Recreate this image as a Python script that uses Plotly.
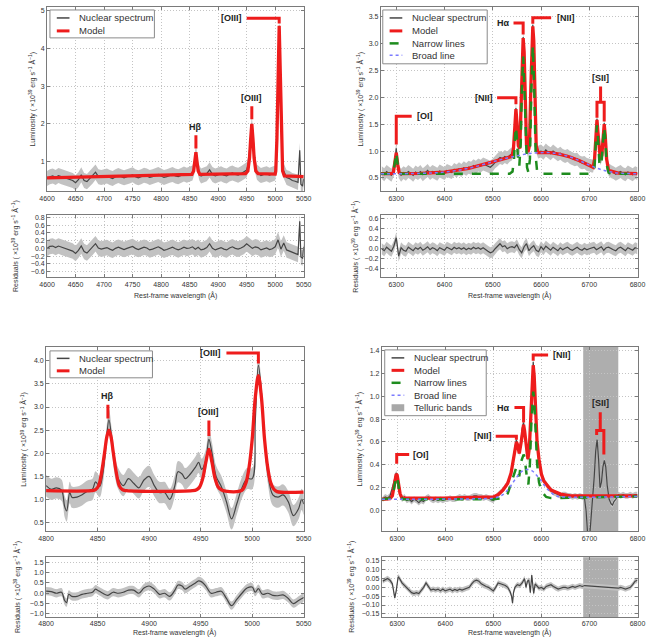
import plotly.graph_objects as go

W, H = 666, 637
FONT = "Liberation Sans, Arial, sans-serif"

# ---------------- Panel 1 : H-beta / [OIII] (top left) ----------------
P1_WL = [4600,4605,4610,4615,4620,4625,4630,4635,4640,4645,
         4650,4655,4660,4665,4670,4675,4680,4685,4690,4695,
         4700,4705,4710,4715,4720,4725,4730,4735,4740,4745,
         4750,4755,4760,4765,4770,4775,4780,4785,4790,4795,
         4800,4805,4810,4815,4820,4825,4830,4835,4840,4845,
         4850,4855,4858,4861,4864,4867,4870,4875,4880,4885,
         4890,4895,4900,4905,4910,4915,4920,4925,4930,4935,
         4940,4945,4950,4953,4956,4959,4962,4965,4968,4972,
         4975,4980,4985,4990,4995,5000,5002,5004,5007,5010,
         5012,5015,5020,5025,5030,5035,5040,5043,5045,5048,
         5050]
P1_FLUX = [0.55,0.60,0.62,0.58,0.63,0.60,0.57,0.55,0.52,0.50,
           0.44,0.52,0.65,0.50,0.47,0.55,0.62,0.72,0.60,0.58,
           0.60,0.62,0.58,0.55,0.60,0.63,0.60,0.57,0.60,0.62,
           0.65,0.60,0.57,0.60,0.64,0.62,0.58,0.60,0.63,0.66,
           0.62,0.58,0.60,0.64,0.66,0.62,0.60,0.63,0.67,0.64,
           0.66,0.70,0.85,1.25,0.90,0.70,0.62,0.64,0.68,0.78,
           0.66,0.62,0.65,0.68,0.64,0.62,0.67,0.70,0.66,0.64,
           0.68,0.72,0.78,0.95,1.50,2.00,1.50,0.90,0.72,0.66,
           0.63,0.66,0.68,0.64,0.66,0.70,0.90,2.50,4.60,2.50,
           0.90,0.75,0.58,0.55,0.50,0.48,0.45,1.30,0.40,0.35,
           0.55]
P1_ERR = 0.2
P1_MODEL_WL = [4600,4700,4800,4850,4854,4857,4859,4861,4863,4865,
               4868,4900,4948,4952,4955,4957,4959,4961,4963,4966,
               4970,5000,5001,5003,5005,5007,5009,5011,5013,5016,5050]
P1_MODEL = [0.57,0.60,0.63,0.65,0.66,0.75,0.98,1.25,0.98,0.75,
            0.66,0.66,0.68,0.75,1.10,1.60,2.00,1.60,1.10,0.75,
            0.68,0.67,0.75,1.60,3.30,4.60,3.30,1.60,0.75,0.62,0.60]
P1_RES_WL = list(range(4600, 5041, 5)) + [5043, 5045, 5048, 5050]
P1_RES = [0.00,0.05,0.06,0.02,0.06,0.03,0.00,-0.02,-0.05,-0.07,
          -0.13,-0.05,0.06,-0.08,-0.12,-0.04,0.03,0.12,0.01,-0.02,
          0.00,0.02,-0.02,-0.05,0.00,0.03,0.00,-0.03,0.00,0.02,
          0.05,0.00,-0.03,0.00,0.03,0.01,-0.04,-0.02,0.01,0.04,
          0.00,-0.05,-0.03,0.01,0.03,-0.01,-0.04,-0.01,0.03,0.00,
          0.01,0.04,-0.02,0.03,-0.04,-0.02,0.02,0.12,0.00,-0.04,
          -0.01,0.02,-0.02,-0.04,0.01,0.04,0.00,-0.02,0.01,0.05,
          0.12,0.06,0.00,0.04,0.02,-0.04,-0.01,0.01,-0.03,-0.01,
          0.04,0.22,-0.02,0.14,-0.04,-0.07,-0.10,-0.12,-0.16,
          0.70,-0.22,-0.25,0.04]
P1_RES_ERR = 0.2

# ---------------- Panel 2 : H-alpha region (top right) ----------------
P2_WL = [6270,6275,6280,6285,6290,6295,6298,6300,6302,6305,
         6310,6315,6320,6325,6330,6335,6340,6345,6350,6355,
         6360,6365,6370,6375,6380,6385,6390,6395,6400,6405,
         6410,6415,6420,6425,6430,6435,6440,6445,6450,6455,
         6460,6465,6470,6475,6480,6485,6490,6495,6500,6505,
         6510,6515,6520,6525,6530,6535,6540,6543,6546,6548,
         6550,6553,6556,6559,6561,6563,6565,6567,6570,6573,
         6576,6579,6581,6583,6585,6587,6590,6594,6600,6605,
         6610,6615,6620,6625,6630,6635,6640,6645,6650,6655,
         6660,6665,6670,6675,6680,6685,6690,6695,6700,6705,
         6708,6711,6714,6716,6718,6721,6723,6726,6729,6731,
         6733,6736,6740,6745,6750,6755,6760,6765,6770,6775,
         6780,6785,6790,6795,6800]
P2_FLUX = [0.60,0.56,0.62,0.58,0.55,0.65,0.85,1.05,0.85,0.62,
           0.55,0.60,0.57,0.62,0.59,0.55,0.61,0.58,0.62,0.56,
           0.60,0.64,0.58,0.62,0.60,0.57,0.63,0.60,0.58,0.64,
           0.62,0.60,0.66,0.63,0.67,0.64,0.69,0.66,0.70,0.68,
           0.73,0.70,0.74,0.72,0.76,0.74,0.72,0.70,0.74,0.80,
           0.84,0.88,0.86,0.90,0.87,0.92,0.95,1.05,1.55,1.80,
           1.55,1.10,1.05,1.95,2.85,3.12,2.85,1.95,1.10,1.00,
           1.10,2.20,3.05,3.35,3.05,2.20,1.10,0.98,1.00,0.96,
           1.02,0.98,0.95,1.00,0.97,0.93,0.96,0.92,0.90,0.92,
           0.88,0.86,0.84,0.85,0.80,0.78,0.79,0.75,0.74,0.72,
           0.72,0.86,1.35,1.60,1.35,0.95,0.86,0.92,1.30,1.52,
           1.30,0.86,0.66,0.62,0.60,0.57,0.60,0.62,0.58,0.56,
           0.61,0.59,0.56,0.60,0.58]
P2_ERR = 0.12
P2_MODEL_WL = [6268,6290,6294,6297,6300,6303,6306,6310,6350,6400,
               6450,6500,6530,6540,6543,6546,6548,6550,6553,6556,
               6559,6561,6563,6565,6567,6570,6573,6576,6579,6581,
               6583,6585,6587,6590,6594,6600,6620,6640,6660,6680,
               6700,6708,6711,6714,6716,6718,6721,6723,6726,6729,
               6731,6733,6736,6740,6760,6800]
P2_MODEL = [0.58,0.58,0.60,0.75,0.97,0.75,0.60,0.58,0.585,0.61,
            0.68,0.80,0.87,0.90,1.05,1.55,1.78,1.55,1.10,1.05,
            1.95,2.85,3.10,2.85,1.95,1.10,0.98,1.10,2.20,3.05,
            3.32,3.05,2.20,1.10,0.97,0.97,0.97,0.94,0.89,0.82,
            0.74,0.70,0.85,1.35,1.58,1.35,0.95,0.85,0.92,1.30,
            1.50,1.30,0.85,0.64,0.59,0.58]
P2_NARROW_WL = [6268,6290,6294,6297,6300,6303,6306,6310,6535,6541,
                6544,6546,6548,6550,6552,6555,6558,6560,6563,6566,
                6568,6571,6574,6577,6580,6583,6586,6589,6592,6596,
                6705,6711,6714,6716,6718,6721,6723,6726,6729,6731,
                6733,6736,6740,6745,6800]
P2_NARROW = [0.58,0.58,0.60,0.75,0.97,0.75,0.60,0.58,0.58,0.62,
             0.85,1.25,1.45,1.25,0.90,0.72,1.15,2.05,2.76,2.05,
             1.30,0.70,0.60,0.85,2.15,2.96,2.15,0.90,0.62,0.58,
             0.58,0.70,1.25,1.48,1.25,0.78,0.72,0.85,1.25,1.44,
             1.25,0.75,0.60,0.58,0.58]
P2_BROAD_WL = [6268,6350,6400,6450,6500,6530,6560,6580,6600,6620,
               6640,6660,6680,6700,6720,6740,6760,6800]
P2_BROAD = [0.58,0.585,0.61,0.68,0.80,0.87,0.93,0.96,0.97,0.97,
            0.94,0.89,0.82,0.74,0.67,0.62,0.59,0.58]
P2_RES_WL = list(range(6270, 6801, 5))
P2_RES = [0.00,-0.04,0.03,-0.02,-0.05,0.05,0.22,-0.15,0.02,-0.03,
          -0.05,0.03,0.00,-0.04,0.02,-0.01,0.03,-0.03,0.00,0.04,
          -0.02,0.02,0.00,-0.04,0.02,-0.01,-0.03,0.03,0.01,-0.02,
          0.03,0.00,0.02,-0.01,0.02,-0.02,0.01,-0.01,0.03,0.00,
          0.02,-0.01,0.02,-0.02,-0.05,-0.08,-0.06,0.00,0.06,0.10,
          0.04,0.06,0.00,0.03,0.04,0.02,0.08,-0.02,-0.08,0.04,
          0.10,-0.04,0.02,0.06,-0.03,-0.06,0.04,-0.02,0.05,0.01,
          -0.03,0.03,0.00,-0.04,0.02,-0.02,0.01,0.03,-0.01,-0.03,
          0.00,0.03,-0.01,-0.03,0.01,-0.02,0.00,0.02,0.03,-0.02,
          0.01,0.04,-0.03,0.02,0.03,0.00,-0.02,-0.04,0.01,0.03,
          -0.01,-0.04,0.02,0.00,-0.03,0.02,0.00]
P2_RES_ERR = 0.11

# ---------------- Panel 3 : H-beta / [OIII] (bottom left) ----------------
P3_WL = [4800,4805,4810,4815,4818,4820,4823,4825,4830,4835,
         4840,4845,4848,4852,4855,4858,4861,4864,4867,4870,
         4875,4880,4885,4890,4895,4900,4905,4910,4915,4920,
         4925,4928,4932,4935,4940,4945,4948,4951,4955,4958,
         4961,4965,4970,4975,4980,4985,4990,4995,5000,5003,
         5006,5009,5012,5015,5020,5025,5030,5035,5040,5045,
         5048,5050]
P3_FLUX = [1.30,1.22,1.25,1.20,0.85,0.75,1.15,1.05,1.05,1.10,
           1.18,1.22,1.38,1.28,1.55,2.15,2.72,2.25,1.70,1.45,
           1.30,1.45,1.35,1.25,1.42,1.50,1.30,1.15,1.15,1.00,
           1.30,1.60,1.55,1.45,1.55,1.70,1.80,1.65,1.85,2.30,
           2.00,1.50,1.28,0.95,0.58,0.90,1.25,1.45,1.45,2.70,
           3.90,3.30,2.30,1.60,1.10,1.05,1.10,0.95,0.65,0.80,
           1.00,0.90]
P3_ERR = 0.23
P3_MODEL_WL = [4800,4844,4848,4851,4854,4857,4859,4861,4863,4865,
               4868,4871,4874,4878,4942,4946,4949,4952,4955,4958,
               4961,4964,4967,4970,4974,4988,4991,4994,4997,5000,
               5003,5006,5009,5012,5015,5018,5021,5024,5050]
P3_MODEL = [1.19,1.19,1.21,1.30,1.60,2.05,2.36,2.50,2.36,2.05,
            1.60,1.30,1.21,1.19,1.19,1.21,1.27,1.45,1.80,2.08,
            1.80,1.45,1.27,1.21,1.18,1.18,1.22,1.36,1.70,2.30,
            3.20,3.68,3.20,2.30,1.70,1.36,1.22,1.17,1.16]
P3_RES_WL = [4800,4805,4810,4815,4818,4820,4822,4825,4830,4835,
             4840,4845,4848,4850,4855,4860,4865,4870,4875,4880,
             4885,4890,4895,4900,4905,4910,4915,4920,4925,4928,
             4932,4935,4940,4945,4948,4951,4955,4960,4965,4970,
             4975,4980,4985,4990,4995,5000,5003,5006,5010,5015,
             5020,5025,5030,5035,5040,5045,5050]
P3_RES = [0.10,0.08,0.00,0.05,-0.35,-0.45,-0.05,-0.15,-0.15,-0.05,
          0.00,0.05,0.20,0.15,0.00,-0.10,0.05,0.00,0.05,0.15,
          0.15,0.00,0.25,0.35,0.20,-0.05,0.00,-0.15,0.15,0.40,
          0.35,0.20,0.35,0.50,0.60,0.55,0.35,0.00,0.05,0.10,
          -0.25,-0.60,-0.30,0.00,0.25,0.30,0.05,0.22,-0.05,0.00,
          -0.10,-0.12,-0.08,-0.25,-0.50,-0.35,-0.20]
P3_RES_ERR = 0.2

# ---------------- Panel 4 : H-alpha region (bottom right) ----------------
P4_WL = [6270,6275,6280,6285,6290,6295,6298,6301,6305,6310,
         6315,6320,6325,6330,6335,6340,6345,6350,6355,6360,
         6365,6370,6375,6380,6385,6390,6395,6400,6405,6410,
         6415,6420,6425,6430,6435,6440,6445,6450,6455,6460,
         6465,6470,6475,6480,6485,6490,6495,6500,6505,6510,
         6515,6520,6525,6530,6535,6540,6545,6548,6551,6554,
         6557,6560,6563,6566,6569,6572,6575,6578,6581,6583,
         6586,6589,6592,6595,6600,6605,6610,6615,6620,6625,
         6630,6635,6640,6645,6650,6655,6660,6665,6670,6675,
         6680,6685,6690,6693,6697,6700,6703,6706,6710,6713,
         6716,6719,6722,6725,6728,6731,6734,6737,6741,6745,
         6748,6751,6755,6760,6765,6770,6775,6780,6785,6790,
         6795,6800]
P4_FLUX = [0.10,0.12,0.11,0.13,0.20,0.30,0.33,0.28,0.15,0.10,
           0.12,0.09,0.10,0.08,0.10,0.09,0.07,0.09,0.08,0.11,
           0.12,0.10,0.09,0.10,0.09,0.10,0.09,0.10,0.10,0.11,
           0.10,0.10,0.11,0.12,0.11,0.12,0.11,0.11,0.12,0.13,
           0.13,0.12,0.12,0.11,0.12,0.11,0.10,0.09,0.12,0.14,
           0.16,0.18,0.21,0.24,0.30,0.40,0.55,0.62,0.55,0.50,
           0.58,0.72,0.77,0.68,0.52,0.45,0.55,0.85,1.20,1.30,
           1.15,0.80,0.55,0.42,0.32,0.27,0.23,0.20,0.18,0.16,
           0.15,0.14,0.13,0.14,0.14,0.13,0.13,0.12,0.13,0.12,
           0.13,0.12,0.10,0.00,-0.25,-0.25,-0.10,0.05,0.30,0.52,
           0.62,0.45,0.20,0.25,0.38,0.44,0.38,0.22,0.10,0.06,
           0.05,0.08,0.10,0.14,0.13,0.14,0.13,0.13,0.14,0.13,
           0.14,0.14]
P4_ERR = 0.025
P4_MODEL_WL = [6268,6285,6290,6293,6296,6298,6300,6303,6306,6310,
               6400,6500,6510,6520,6530,6537,6542,6546,6548,6550,
               6554,6558,6561,6563,6565,6569,6572,6575,6578,6581,
               6583,6585,6588,6591,6595,6600,6605,6610,6620,6640,
               6660,6800]
P4_MODEL = [0.10,0.105,0.13,0.20,0.29,0.32,0.31,0.24,0.15,0.11,
            0.11,0.12,0.14,0.18,0.24,0.33,0.47,0.58,0.60,0.58,
            0.50,0.60,0.72,0.75,0.70,0.52,0.45,0.55,0.85,1.18,
            1.27,1.18,0.88,0.60,0.45,0.32,0.26,0.23,0.18,0.145,
            0.13,0.13]
P4_NARROW_WL = [6268,6288,6292,6295,6298,6301,6304,6308,6312,6500,
                6520,6530,6537,6542,6546,6548,6550,6554,6558,6561,
                6563,6565,6568,6571,6573,6576,6579,6582,6583,6585,
                6588,6591,6595,6600,6610,6620,6800]
P4_NARROW = [0.10,0.11,0.16,0.25,0.30,0.27,0.18,0.12,0.10,0.10,
             0.11,0.15,0.24,0.32,0.37,0.38,0.37,0.30,0.43,0.48,
             0.49,0.47,0.35,0.25,0.23,0.40,0.75,1.02,1.04,0.98,
             0.70,0.42,0.25,0.17,0.12,0.11,0.125]
P4_BROAD_WL = [6268,6480,6500,6510,6520,6530,6540,6550,6560,6570,
               6580,6590,6600,6610,6620,6630,6645,6800]
P4_BROAD = [0.10,0.105,0.11,0.12,0.14,0.18,0.24,0.30,0.345,0.36,
            0.35,0.31,0.26,0.20,0.16,0.13,0.12,0.125]
P4_RES_WL = [6270,6275,6280,6285,6290,6295,6298,6302,6305,6310,
             6315,6320,6325,6330,6335,6340,6345,6350,6355,6360,
             6365,6370,6375,6380,6385,6390,6395,6400,6405,6410,
             6415,6420,6425,6430,6435,6440,6445,6450,6455,6460,
             6465,6470,6475,6480,6485,6490,6495,6500,6505,6510,
             6515,6520,6525,6530,6535,6538,6540,6542,6545,6550,
             6555,6560,6565,6568,6571,6574,6577,6580,6582,6584,
             6587,6590,6595,6600,6605,6610,6615,6620,6625,6630,
             6635,6640,6645,6650,6655,6660,6665,6670,6675,6680,
             6685,6690,6760,6765,6770,6775,6780,6785,6790,6795,
             6800]
P4_RES = [0.035,0.045,0.05,0.04,0.02,-0.06,-0.02,0.06,0.05,0.025,
          0.01,0.0,-0.015,-0.03,-0.035,-0.03,-0.035,-0.02,0.0,0.025,
          0.005,-0.015,-0.01,-0.015,-0.01,-0.02,-0.01,-0.02,-0.015,-0.01,
          -0.02,-0.012,-0.018,-0.01,-0.015,-0.01,-0.005,0.0,0.02,0.035,
          0.04,0.035,0.02,0.01,0.005,0.0,-0.01,-0.02,0.0,0.025,
          0.02,0.015,0.01,0.0,-0.025,-0.05,-0.09,-0.03,0.0,0.015,
          0.01,0.025,0.05,0.0,0.035,0.04,-0.03,0.07,0.0,-0.035,
          0.02,0.01,-0.005,0.0,-0.01,0.005,0.01,0.015,0.005,-0.005,
          -0.01,-0.005,0.0,0.0,-0.005,0.0,0.005,0.0,0.005,0.01,
          0.005,0.01,-0.005,0.0,-0.005,-0.01,-0.005,0.0,0.015,0.035,
          0.04]
P4_RES_ERR = 0.015
TELLURIC = [6687, 6760]

LEGEND_LABELS = ["Nuclear spectrum", "Model", "Narrow lines", "Broad line", "Telluric bands"]

# ---------------- line identification brackets (data coords) ----------------
P1_BRACKETS = [
    dict(x=[4861, 4861], y=[1.35, 1.70], label="Hβ", lx=4861, ly=1.72, anchor="bottom"),
    dict(x=[4959, 4959], y=[2.12, 2.47], label="[OIII]", lx=4959, ly=2.50, anchor="bottom"),
    dict(x=[5007, 5007, 4950], y=[4.66, 4.80, 4.80], label="[OIII]", lx=4946, ly=4.80, anchor="right"),
]
P2_BRACKETS = [
    dict(x=[6300, 6300, 6332], y=[1.12, 1.65, 1.65], label="[OI]", lx=6338, ly=1.65, anchor="left"),
    dict(x=[6548, 6548, 6509], y=[1.87, 1.99, 1.99], label="[NII]", lx=6505, ly=1.99, anchor="right"),
    dict(x=[6563, 6563, 6543], y=[3.17, 3.38, 3.38], label="Hα", lx=6539, ly=3.38, anchor="right"),
    dict(x=[6583, 6583, 6621], y=[3.37, 3.48, 3.48], label="[NII]", lx=6628, ly=3.48, anchor="left"),
    dict(x=[6716, 6716, 6731, 6731, None, 6723.5, 6723.5], y=[1.62, 1.91, 1.91, 1.55, None, 1.91, 2.20],
         label="[SII]", lx=6723.5, ly=2.23, anchor="bottom"),
]
P3_BRACKETS = [
    dict(x=[4860, 4860], y=[2.75, 3.05], label="Hβ", lx=4860, ly=3.08, anchor="bottom"),
    dict(x=[4958, 4958], y=[2.37, 2.71], label="[OIII]", lx=4958, ly=2.74, anchor="bottom"),
    dict(x=[5006, 5006, 4975], y=[3.94, 4.17, 4.17], label="[OIII]", lx=4972, ly=4.17, anchor="right"),
]
P4_BRACKETS = [
    dict(x=[6299, 6299, 6325], y=[0.41, 0.49, 0.49], label="[OI]", lx=6329, ly=0.49, anchor="left"),
    dict(x=[6548, 6548, 6505], y=[0.62, 0.65, 0.65], label="[NII]", lx=6501, ly=0.65, anchor="right"),
    dict(x=[6563, 6563, 6544], y=[0.77, 0.90, 0.90], label="Hα", lx=6539, ly=0.90, anchor="right"),
    dict(x=[6583, 6583, 6614], y=[1.31, 1.36, 1.36], label="[NII]", lx=6619, ly=1.36, anchor="left"),
    dict(x=[6715, 6715, 6730, 6730, None, 6722.5, 6722.5], y=[0.66, 0.70, 0.70, 0.49, None, 0.70, 0.86],
         label="[SII]", lx=6722.5, ly=0.88, anchor="bottom"),
]

# ---------------- layout geometry (pixels) ----------------
PANELS = [
    dict(xpx=(40, 303), main=(5, 190), res=(214, 276), xr=[4600, 5050], yr=[0.21, 5.1], rr=[-0.74, 0.85],
         xd=50, yd=1, yf=".0f", rd=0.2, rf=".1f", lum_x=25, res_x=7, xt_y=294),
    dict(xpx=(382, 645), main=(5, 190), res=(214, 276), xr=[6268, 6800], yr=[0.25, 3.68], rr=[-0.57, 0.67],
         xd=100, yd=0.5, yf=".1f", rd=0.2, rf=".1f", lum_x=361, res_x=356, xt_y=294),
    dict(xpx=(39, 303), main=(346, 531), res=(557, 617), xr=[4800, 5050], yr=[0.31, 4.3], rr=[-1.15, 1.74],
         xd=50, yd=0.5, yf=".1f", rd=0.5, rf=".1f", lum_x=16, res_x=9, xt_y=632),
    dict(xpx=(383, 645), main=(346, 531), res=(557, 617), xr=[6268, 6800], yr=[-0.18, 1.43], rr=[-0.168, 0.17],
         xd=100, yd=0.2, yf=".1f", rd=0.05, rf=".2f", lum_x=360, res_x=352, xt_y=632),
]

RED = "#ee1c1c"
GREEN = "#1e8c1e"
BLUE = "#7b7bff"
SPEC = "#454545"
BAND = "#c2c2c2"


def fx(px):
    return px / W


def fy(py):
    return 1 - py / H


def band_xy(wl, val, err):
    xs = list(wl) + list(wl)[::-1]
    up = [v + err for v in val]
    lo = [v - err for v in val]
    return xs, up + lo[::-1]


fig = go.Figure()

DATA = [
    dict(wl=P1_WL, flux=P1_FLUX, err=P1_ERR, mwl=P1_MODEL_WL, model=P1_MODEL,
         rwl=P1_RES_WL, res=P1_RES, rerr=P1_RES_ERR, br=P1_BRACKETS, shape="linear"),
    dict(wl=P2_WL, flux=P2_FLUX, err=P2_ERR, mwl=P2_MODEL_WL, model=P2_MODEL,
         nwl=P2_NARROW_WL, narrow=P2_NARROW, bwl=P2_BROAD_WL, broad=P2_BROAD,
         rwl=P2_RES_WL, res=P2_RES, rerr=P2_RES_ERR, br=P2_BRACKETS, shape="linear"),
    dict(wl=P3_WL, flux=P3_FLUX, err=P3_ERR, mwl=P3_MODEL_WL, model=P3_MODEL,
         rwl=P3_RES_WL, res=P3_RES, rerr=P3_RES_ERR, br=P3_BRACKETS, shape="spline"),
    dict(wl=P4_WL, flux=P4_FLUX, err=P4_ERR, mwl=P4_MODEL_WL, model=P4_MODEL,
         nwl=P4_NARROW_WL, narrow=P4_NARROW, bwl=P4_BROAD_WL, broad=P4_BROAD,
         rwl=P4_RES_WL, res=P4_RES, rerr=P4_RES_ERR, br=P4_BRACKETS, shape="linear", telluric=True),
]

annotations = []
shapes = []
axis_common = dict(showgrid=True, gridcolor="#c4c4c4", griddash="1px,2px", gridwidth=1,
                   showline=True, linecolor="#7a7a7a", linewidth=1, mirror="ticks",
                   ticks="inside", ticklen=3, tickcolor="#7a7a7a", zeroline=False,
                   tickfont=dict(family=FONT, size=7, color="#333333"))

for i, (p, d) in enumerate(zip(PANELS, DATA)):
    mi, ri = 2 * i + 1, 2 * i + 2
    mx, my = ("x" if mi == 1 else f"x{mi}"), ("y" if mi == 1 else f"y{mi}")
    rx, ry = f"x{ri}", f"y{ri}"
    xdom = [fx(p["xpx"][0]), fx(p["xpx"][1])]
    fig.update_layout(**{
        ("xaxis" if mi == 1 else f"xaxis{mi}"): dict(axis_common, domain=xdom, range=p["xr"], dtick=p["xd"],
                                                    tick0=0, anchor=my),
        ("yaxis" if mi == 1 else f"yaxis{mi}"): dict(axis_common, domain=[fy(p["main"][1]), fy(p["main"][0])],
                                                    range=p["yr"], dtick=p["yd"], tick0=0,
                                                    tickformat=p["yf"], anchor=mx),
        f"xaxis{ri}": dict(axis_common, domain=xdom, range=p["xr"], dtick=p["xd"], tick0=0, anchor=ry),
        f"yaxis{ri}": dict(axis_common, domain=[fy(p["res"][1]), fy(p["res"][0])], range=p["rr"],
                           dtick=p["rd"], tick0=0, tickformat=p["rf"], anchor=rx),
    })

    if d.get("telluric"):
        for ax in (mx, rx):
            yax = my if ax == mx else ry
            shapes.append(dict(type="rect", xref=ax, yref=f"{yax} domain", x0=TELLURIC[0], x1=TELLURIC[1],
                               y0=0, y1=1, fillcolor="rgba(120,120,120,0.6)", line=dict(width=0),
                               layer="below"))

    # main panel
    bx, by = band_xy(d["wl"], d["flux"], d["err"])
    fig.add_trace(go.Scatter(x=bx, y=by, xaxis=mx, yaxis=my, fill="toself", fillcolor=BAND,
                             line=dict(width=0, shape=d["shape"]), mode="lines", hoverinfo="skip",
                             showlegend=False))
    fig.add_trace(go.Scatter(x=d["wl"], y=d["flux"], xaxis=mx, yaxis=my, mode="lines",
                             line=dict(color=SPEC, width=1.2, shape=d["shape"]), showlegend=False))
    fig.add_trace(go.Scatter(x=d["mwl"], y=d["model"], xaxis=mx, yaxis=my, mode="lines",
                             line=dict(color=RED, width=3.3, shape=d["shape"]), showlegend=False))
    if "narrow" in d:
        fig.add_trace(go.Scatter(x=d["nwl"], y=d["narrow"], xaxis=mx, yaxis=my, mode="lines",
                                 line=dict(color=GREEN, width=2.5, dash="dash"), showlegend=False))
        fig.add_trace(go.Scatter(x=d["bwl"], y=d["broad"], xaxis=mx, yaxis=my, mode="lines",
                                 line=dict(color=BLUE, width=1.5, dash="dot", shape="spline"),
                                 showlegend=False))
    for b in d["br"]:
        fig.add_trace(go.Scatter(x=b["x"], y=b["y"], xaxis=mx, yaxis=my, mode="lines",
                                 line=dict(color=RED, width=3), showlegend=False, hoverinfo="skip"))
        anc = b["anchor"]
        annotations.append(dict(x=b["lx"], y=b["ly"], xref=mx, yref=my, text=f"<b>{b['label']}</b>",
                                showarrow=False,
                                xanchor={"left": "left", "right": "right"}.get(anc, "center"),
                                yanchor="bottom" if anc == "bottom" else "middle",
                                font=dict(family=FONT, size=9, color="#222222")))

    # residual panel
    bx, by = band_xy(d["rwl"], d["res"], d["rerr"])
    fig.add_trace(go.Scatter(x=bx, y=by, xaxis=rx, yaxis=ry, fill="toself", fillcolor=BAND,
                             line=dict(width=0, shape=d["shape"]), mode="lines", hoverinfo="skip",
                             showlegend=False))
    fig.add_trace(go.Scatter(x=d["rwl"], y=d["res"], xaxis=rx, yaxis=ry, mode="lines",
                             line=dict(color=SPEC, width=1.2, shape=d["shape"]), showlegend=False))

    # axis titles
    ylum = "Luminosity ( ×10<sup>39</sup> erg s<sup>−1</sup> Å<sup>−1</sup>)"
    yres = "Residuals ( ×10<sup>39</sup> erg s<sup>−1</sup> Å<sup>−1</sup>)"
    annotations.append(dict(x=fx(p["lum_x"]), y=fy((p["main"][0] + p["main"][1]) / 2), xref="paper",
                            yref="paper", text=ylum, textangle=-90, showarrow=False, xanchor="center",
                            yanchor="middle", font=dict(family=FONT, size=7, color="#333333")))
    annotations.append(dict(x=fx(p["res_x"]), y=fy((p["res"][0] + p["res"][1]) / 2), xref="paper",
                            yref="paper", text=yres, textangle=-90, showarrow=False, xanchor="center",
                            yanchor="middle", font=dict(family=FONT, size=7, color="#333333")))
    annotations.append(dict(x=fx((p["xpx"][0] + p["xpx"][1]) / 2), y=fy(p["xt_y"]), xref="paper",
                            yref="paper", text="Rest-frame wavelength (Å)", showarrow=False,
                            xanchor="center", yanchor="middle",
                            font=dict(family=FONT, size=7, color="#333333")))

# ---------------- custom legends ----------------
LEGENDS = [
    dict(box=(43, 150, 8, 36), rows=[16, 29], n=2),
    dict(box=(384, 491, 8, 62), rows=[16, 29, 41.5, 53.5], n=4),
    dict(box=(43, 148, 350, 377), rows=[357.5, 370], n=2),
    dict(box=(386, 490, 349, 415), rows=[357, 369.5, 382, 394.5, 407], n=5),
]
SAMPLE = [dict(color=SPEC, width=1.5, dash="solid"), dict(color=RED, width=3, dash="solid"),
          dict(color=GREEN, width=2.5, dash="dash"), dict(color=BLUE, width=1.5, dash="dot")]
for lg in LEGENDS:
    x0, x1, y0, y1 = lg["box"]
    shapes.append(dict(type="rect", xref="paper", yref="paper", x0=fx(x0), x1=fx(x1), y0=fy(y1), y1=fy(y0),
                       fillcolor="white", line=dict(color="#8a8a8a", width=1), layer="above"))
    for k in range(lg["n"]):
        ry_ = lg["rows"][k]
        if k < 4:
            shapes.append(dict(type="line", xref="paper", yref="paper", x0=fx(x0 + 7), x1=fx(x0 + 20),
                               y0=fy(ry_), y1=fy(ry_), line=SAMPLE[k], layer="above"))
        else:
            shapes.append(dict(type="rect", xref="paper", yref="paper", x0=fx(x0 + 7), x1=fx(x0 + 20),
                               y0=fy(ry_ + 3.5), y1=fy(ry_ - 3.5), fillcolor="#a8a8a8",
                               line=dict(width=0), layer="above"))
        annotations.append(dict(x=fx(x0 + 28), y=fy(ry_), xref="paper", yref="paper",
                                text=LEGEND_LABELS[k], showarrow=False, xanchor="left", yanchor="middle",
                                font=dict(family=FONT, size=9.5, color="#333333")))

fig.update_layout(width=W, height=H, margin=dict(l=0, r=0, t=0, b=0), autosize=False,
                  paper_bgcolor="white", plot_bgcolor="white", showlegend=False,
                  annotations=annotations, shapes=shapes, font=dict(family=FONT))

fig.write_html("out.html", config={"displayModeBar": False},
               post_script="document.body.style.margin='0';")
